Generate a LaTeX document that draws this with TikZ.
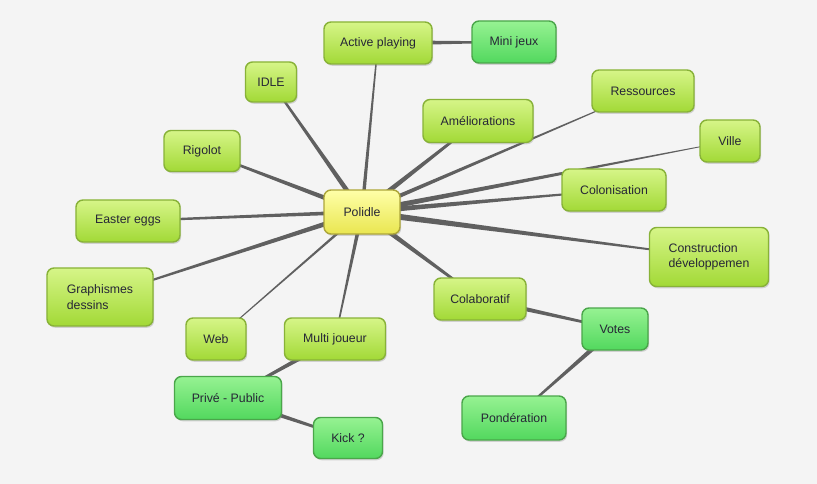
\documentclass[tikz,border=0pt]{standalone}
\usepackage{fontspec}
\setmainfont{Liberation Sans}
\usetikzlibrary{calc,shadows,backgrounds}

\definecolor{paper}{HTML}{F4F4F4}
\definecolor{branchgray}{HTML}{606060}
\definecolor{inktext}{HTML}{262636}
\definecolor{limetop}{HTML}{D6F588}
\definecolor{limebot}{HTML}{A2D936}
\definecolor{limeline}{HTML}{88B238}
\definecolor{greentop}{HTML}{96F292}
\definecolor{greenbot}{HTML}{52D85E}
\definecolor{greenline}{HTML}{4AA64A}
\definecolor{sunTop}{HTML}{FFFFA8}
\definecolor{sunBot}{HTML}{E9E650}
\definecolor{sunLine}{HTML}{ADA63A}

% tapered connector: from, to, half width at start, half width at end
\newcommand{\branch}[4]{%
  \fill[branchgray] ($(#1)!#3!90:(#2)$) -- ($(#2)!#4!-90:(#1)$)
    -- ($(#2)!#4!90:(#1)$) -- ($(#1)!#3!-90:(#2)$) -- cycle;}

\tikzset{
  idea/.style={rounded corners=6pt, line width=1.2pt, inner sep=0pt,
    minimum height=1.26cm, text=inktext, align=center,
    font=\fontsize{10.5}{13}\selectfont,
    drop shadow={opacity=0.3, shadow xshift=1pt, shadow yshift=-1.5pt}},
  topic/.style={idea, draw=limeline, top color=limetop, bottom color=limebot},
  subtopic/.style={idea, draw=greenline, top color=greentop, bottom color=greenbot},
  root/.style={idea, draw=sunLine, top color=sunTop, bottom color=sunBot,
    minimum height=1.32cm}
}

\begin{document}
\begin{tikzpicture}[x=0.03cm, y=-0.03cm]
\useasboundingbox (0,0) rectangle (817,484);

\node[root, minimum width=2.28cm] (polidle) at (362,212) {Polidle};

\node[topic, minimum width=3.24cm] (active) at (378,43) {Active playing};
\node[subtopic, minimum width=2.52cm] (mini) at (514,42) {Mini jeux};
\node[topic, minimum width=1.53cm, minimum height=1.2cm] (idle) at (271,82) {IDLE};
\node[topic, minimum width=2.28cm, minimum height=1.23cm] (rigolot) at (202,151) {Rigolot};
\node[topic, minimum width=3.12cm] (easter) at (128,221) {Easter eggs};
\node[topic, minimum width=3.18cm, minimum height=1.74cm, align=left] (graph) at (100,297) {Graphismes\\dessins};
\node[topic, minimum width=1.8cm] (web) at (216,339) {Web};
\node[topic, minimum width=3.03cm] (multi) at (335,339) {Multi joueur};
\node[subtopic, minimum width=3.21cm, minimum height=1.29cm] (prive) at (228,398) {Privé - Public};
\node[subtopic, minimum width=2.07cm, minimum height=1.23cm] (kick) at (348,438) {Kick ?};

\node[topic, minimum width=3.3cm, minimum height=1.29cm] (amelio) at (478,121) {Améliorations};
\node[topic, minimum width=3.06cm] (ressources) at (643,91) {Ressources};
\node[topic, minimum width=1.8cm] (ville) at (730,141) {Ville};
\node[topic, minimum width=3.12cm] (colonisation) at (614,190) {Colonisation};
\node[topic, minimum width=3.57cm, minimum height=1.77cm, align=left] (construction) at (709,257) {Construction\\développemen};
\node[topic, minimum width=2.76cm] (colab) at (480,299) {Colaboratif};
\node[subtopic, minimum width=1.98cm] (votes) at (615,329) {Votes};
\node[subtopic, minimum width=3.12cm, minimum height=1.32cm] (ponderation) at (514,418) {Pondération};

\begin{scope}[on background layer]
\fill[paper] (0,0) rectangle (817,484);
\branch{polidle}{active}{1.6pt}{0.5pt}
\branch{polidle}{idle}{2.2pt}{0.8pt}
\branch{polidle}{rigolot}{2.2pt}{0.8pt}
\branch{polidle}{easter}{1.7pt}{0.8pt}
\branch{polidle}{graph}{2.2pt}{0.6pt}
\branch{polidle}{web}{1.2pt}{0.3pt}
\branch{polidle}{multi}{1.7pt}{0.5pt}
\branch{polidle}{amelio}{2.4pt}{0.8pt}
\branch{polidle}{ressources}{1.9pt}{0.2pt}
\branch{polidle}{ville}{2.4pt}{0.2pt}
\branch{polidle}{colonisation}{2.4pt}{0.5pt}
\branch{polidle}{construction}{2.8pt}{0.4pt}
\branch{polidle}{colab}{2.4pt}{0.8pt}
\branch{active}{mini}{2.4pt}{0.4pt}
\branch{multi}{prive}{2.2pt}{0.8pt}
\branch{prive}{kick}{2.2pt}{0.8pt}
\branch{colab}{votes}{2.2pt}{0.8pt}
\branch{votes}{ponderation}{2.2pt}{0.6pt}
\end{scope}
\end{tikzpicture}
\end{document}
